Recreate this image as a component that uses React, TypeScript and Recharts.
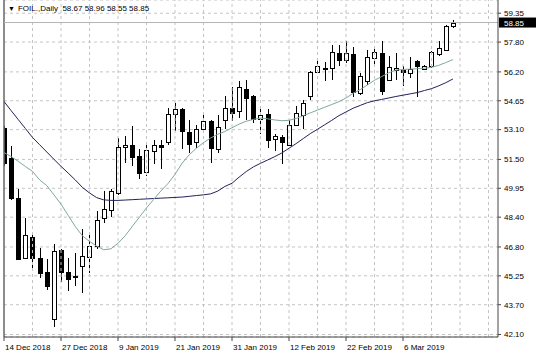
import { ComposedChart, Bar, Line, XAxis, YAxis, CartesianGrid, ReferenceLine } from 'recharts';

const dates = [
  '14 Dec 2018', '17 Dec 2018', '18 Dec 2018', '19 Dec 2018', '20 Dec 2018', '21 Dec 2018', '24 Dec 2018', '26 Dec 2018',
  '27 Dec 2018', '28 Dec 2018', '31 Dec 2018', '2 Jan 2019', '3 Jan 2019', '4 Jan 2019', '7 Jan 2019', '8 Jan 2019',
  '9 Jan 2019', '10 Jan 2019', '11 Jan 2019', '14 Jan 2019', '15 Jan 2019', '16 Jan 2019', '17 Jan 2019', '18 Jan 2019',
  '21 Jan 2019', '22 Jan 2019', '23 Jan 2019', '24 Jan 2019', '25 Jan 2019', '28 Jan 2019', '29 Jan 2019', '30 Jan 2019',
  '31 Jan 2019', '1 Feb 2019', '4 Feb 2019', '5 Feb 2019', '6 Feb 2019', '7 Feb 2019', '8 Feb 2019', '11 Feb 2019',
  '12 Feb 2019', '13 Feb 2019', '14 Feb 2019', '15 Feb 2019', '18 Feb 2019', '19 Feb 2019', '20 Feb 2019', '21 Feb 2019',
  '22 Feb 2019', '25 Feb 2019', '26 Feb 2019', '27 Feb 2019', '28 Feb 2019', '1 Mar 2019', '4 Mar 2019', '5 Mar 2019',
  '6 Mar 2019', '7 Mar 2019', '8 Mar 2019', '11 Mar 2019', '12 Mar 2019', '13 Mar 2019', '14 Mar 2019', '15 Mar 2019',
];

const open = [
  53.21, 51.59, 49.45, 46.23, 47.36, 46.23, 45.43, 42.93, 46.63, 45.46, 45.26, 45.79, 46.23, 46.86, 48.34, 48.77,
  49.72, 52.18, 52.30, 51.71, 50.79, 51.99, 52.30, 52.43, 53.96, 54.22, 52.98, 52.43, 53.14, 53.59, 52.08, 53.64,
  54.27, 54.09, 55.28, 54.89, 53.68, 53.96, 52.57, 52.70, 52.30, 53.37, 53.91, 54.89, 56.18, 56.41, 56.41, 57.21,
  56.86, 57.16, 55.10, 55.69, 56.95, 57.21, 55.78, 56.28, 56.32, 56.14, 56.77, 56.32, 56.50, 57.16, 57.39, 58.67,
];
const high = [
  53.28, 52.21, 49.89, 48.38, 47.48, 46.77, 46.14, 46.95, 46.68, 46.23, 46.50, 47.77, 47.50, 48.73, 49.80, 49.93,
  52.66, 52.75, 53.32, 52.07, 52.25, 52.53, 52.57, 54.27, 54.54, 54.27, 53.64, 53.37, 53.86, 53.64, 53.91, 54.89,
  55.41, 55.69, 55.78, 54.98, 54.32, 54.21, 52.89, 52.79, 53.60, 54.39, 54.68, 56.23, 56.77, 56.71, 57.66, 57.66,
  57.84, 57.53, 56.14, 57.39, 57.48, 57.87, 57.03, 57.21, 56.50, 56.99, 56.86, 56.55, 57.30, 57.84, 58.73, 58.96,
];
const low = [
  51.14, 49.30, 46.14, 46.20, 45.66, 45.13, 44.48, 42.50, 44.93, 44.45, 44.71, 44.31, 45.40, 46.68, 48.11, 48.41,
  49.60, 51.32, 51.14, 50.43, 50.61, 51.23, 50.96, 52.30, 53.02, 52.04, 51.86, 52.12, 52.93, 51.32, 51.86, 53.11,
  53.55, 53.73, 53.64, 53.43, 52.88, 52.12, 51.94, 51.23, 52.21, 53.28, 53.11, 54.68, 56.14, 55.69, 55.78, 56.54,
  56.68, 54.86, 54.98, 55.52, 56.50, 54.98, 55.69, 55.74, 55.43, 55.88, 54.86, 56.28, 56.41, 57.07, 57.30, 58.55,
];
const close = [
  51.34, 49.45, 46.20, 47.45, 46.23, 45.43, 44.66, 46.59, 45.43, 45.11, 45.24, 46.32, 46.84, 48.23, 48.82, 49.80,
  52.18, 52.30, 51.64, 50.79, 51.98, 52.30, 52.18, 53.95, 54.22, 53.02, 52.36, 53.14, 53.55, 52.12, 53.25, 54.27,
  54.00, 55.39, 54.80, 53.68, 53.91, 52.57, 52.75, 52.43, 53.37, 54.00, 54.54, 56.18, 56.50, 56.42, 57.25, 56.86,
  57.21, 55.10, 56.00, 56.99, 57.25, 55.16, 56.47, 56.41, 56.20, 56.37, 56.50, 56.50, 57.25, 57.48, 58.68, 58.85,
];

// moving averages as drawn on the chart
const maFast = [
  51.87, 51.65, 51.40, 51.12, 50.86, 50.40, 50.10, 49.60, 49.10, 48.50, 47.90, 47.40, 47.10, 46.85, 46.65, 46.70,
  47.00, 47.40, 47.90, 48.40, 48.90, 49.35, 49.80, 50.20, 50.70, 51.30, 51.75, 52.10, 52.40, 52.65, 52.85, 53.00,
  53.20, 53.40, 53.55, 53.65, 53.72, 53.68, 53.62, 53.58, 53.60, 53.70, 53.85, 54.00, 54.15, 54.30, 54.45, 54.60,
  54.80, 55.05, 55.25, 55.50, 55.75, 55.95, 56.15, 56.30, 56.33, 56.35, 56.37, 56.40, 56.45, 56.55, 56.70, 56.86,
];
const maSlow = [
  54.61, 54.12, 53.64, 53.16, 52.68, 52.29, 51.90, 51.51, 51.13, 50.77, 50.40, 50.00, 49.70, 49.45, 49.33, 49.30,
  49.30, 49.32, 49.34, 49.36, 49.38, 49.40, 49.42, 49.44, 49.46, 49.48, 49.52, 49.56, 49.60, 49.65, 49.80, 50.05,
  50.22, 50.55, 50.85, 51.10, 51.29, 51.47, 51.65, 51.85, 52.10, 52.35, 52.62, 52.89, 53.12, 53.36, 53.60, 53.85,
  54.05, 54.25, 54.40, 54.55, 54.65, 54.72, 54.80, 54.88, 54.95, 55.02, 55.09, 55.20, 55.30, 55.45, 55.62, 55.82,
];

const priceTicks = [42.1, 43.7, 45.25, 46.8, 48.4, 49.95, 51.5, 53.1, 54.65, 56.2, 57.8, 59.35];
const dateTicks = [0, 8, 16, 24, 32, 40, 48, 56];
const gridBars = [4, 8, 12, 16, 20, 24, 28, 32, 36, 40, 44, 48, 52, 56, 60, 64, 68];
const lastPrice = 58.85;
const header = 'FOIL.,Daily  58.67 58.96 58.55 58.85';

const data = dates.map((d, i) => ({
  i,
  date: d,
  open: open[i],
  high: high[i],
  low: low[i],
  close: close[i],
  range: [low[i], high[i]],
  fast: maFast[i],
  slow: maSlow[i],
}));

const FONT = '"Liberation Sans", Arial, sans-serif';

function Candle(props: any) {
  const { x, y, width, height, payload } = props;
  const cx = Math.round(x + width / 2) + 0.5;
  const span = payload.high - payload.low;
  const k = span > 0 ? height / span : 0;
  const yO = y + (payload.high - payload.open) * k;
  const yC = y + (payload.high - payload.close) * k;
  const up = payload.close >= payload.open;
  const top = Math.round(Math.min(yO, yC)) + 0.5;
  const bh = Math.max(Math.round(Math.abs(yC - yO)), 1);
  return (
    <g>
      <line x1={cx} x2={cx} y1={Math.round(y)} y2={Math.round(y + height)} stroke="#000" strokeWidth={1} />
      <rect x={cx - 2} y={top} width={4} height={bh} fill={up ? '#fff' : '#000'} stroke="#000" strokeWidth={1} />
    </g>
  );
}

function DateTick(props: any) {
  const { x, y, payload } = props;
  return (
    <text x={x + 1} y={y + 7} textAnchor="start" fontSize={8} fill="#000" fontFamily={FONT}>
      {dates[payload.value]}
    </text>
  );
}

function PriceTag(props: any) {
  const vb = props.viewBox || {};
  const left = vb.x + vb.width + 1;
  return (
    <g>
      <rect x={left} y={vb.y - 5} width={37} height={10} fill="#000" />
      <text x={left + 5} y={vb.y + 3} fontSize={8} fill="#fff" fontFamily={FONT}>
        {lastPrice.toFixed(2)}
      </text>
    </g>
  );
}

export default function App() {
  return (
    <div style={{ position: 'absolute', left: 0, top: 0, width: 536, height: 358, background: '#fff', fontFamily: FONT }}>
      <ComposedChart width={536} height={358} data={data} margin={{ top: 0, right: 0, bottom: 0, left: 4 }}>
        <CartesianGrid vertical={false} stroke="#c4c4c4" strokeDasharray="3 3" />
        {gridBars.map((b) => (
          <ReferenceLine key={b} x={b} stroke="#c4c4c4" strokeDasharray="3 3" />
        ))}
        <XAxis
          dataKey="i"
          type="number"
          domain={[0, 69.33]}
          ticks={dateTicks}
          interval={0}
          allowDataOverflow
          tick={<DateTick />}
          tickSize={4}
          tickLine={{ stroke: '#444' }}
          axisLine={{ stroke: '#444' }}
          height={21}
        />
        <YAxis
          orientation="right"
          type="number"
          domain={[41.966, 60.06]}
          ticks={priceTicks}
          interval={0}
          allowDataOverflow
          tickFormatter={(v: number) => v.toFixed(2)}
          tick={{ fontSize: 8, fill: '#000', fontFamily: FONT }}
          tickSize={3}
          tickMargin={3}
          tickLine={{ stroke: '#444' }}
          axisLine={{ stroke: '#444' }}
          width={38}
        />
        <ReferenceLine x={0} stroke="#666" strokeWidth={1.5} />
        <ReferenceLine y={lastPrice} stroke="#b4b4b4" label={<PriceTag />} />
        <Line type="linear" dataKey="slow" stroke="#22225a" strokeWidth={1} dot={false} isAnimationActive={false} />
        <Line type="linear" dataKey="fast" stroke="#7fa89c" strokeWidth={1} dot={false} isAnimationActive={false} />
        <Bar dataKey="range" barSize={5} shape={<Candle />} isAnimationActive={false} />
      </ComposedChart>
      <div style={{ position: 'absolute', left: 8, top: 4, fontSize: 8, color: '#000', whiteSpace: 'pre', lineHeight: '10px' }}>
        <span style={{ fontSize: 7, marginRight: 3 }}>▼</span>
        {header}
      </div>
    </div>
  );
}
